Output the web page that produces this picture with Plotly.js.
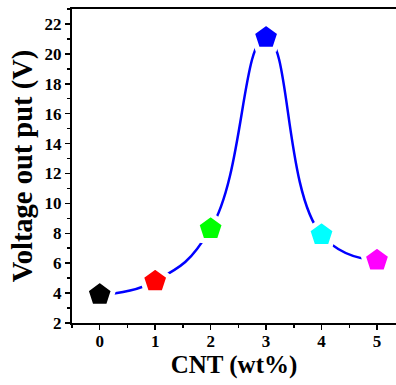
<!DOCTYPE html>
<html>
<head>
<meta charset="utf-8">
<script src="https://cdn.plot.ly/plotly-3.0.1.min.js"></script>
<style>
html,body{margin:0;padding:0;background:#fff;overflow:hidden;}
#chart{width:396px;height:385px;}
</style>
</head>
<body>
<div id="chart"></div>
<script>
const cnt = [0, 1, 2, 3, 4, 5];
const voltage = [3.9, 4.8, 8.3, 21.1, 7.9, 6.2];
const markerColors = ['#000000', '#ff0000', '#00ff00', '#0000ff', '#00ffff', '#ff00ff'];
const xTickVals = [0, 1, 2, 3, 4, 5];
const yTickVals = [2, 4, 6, 8, 10, 12, 14, 16, 18, 20, 22];

const fontFam = '"Liberation Serif", "Times New Roman", serif';

const trace = {
  x: cnt,
  y: voltage,
  type: 'scatter',
  mode: 'lines+markers',
  line: {color: '#0000ff', width: 2.5, shape: 'spline', smoothing: 1.3},
  marker: {symbol: 'pentagon', size: 29, color: markerColors, line: {color: '#ffffff', width: 5}},
  hoverinfo: 'x+y',
  showlegend: false
};

const layout = {
  width: 396,
  height: 385,
  margin: {l: 72, r: 0, t: 9, b: 62},
  paper_bgcolor: '#ffffff',
  plot_bgcolor: '#ffffff',
  font: {family: fontFam, color: '#000000'},
  xaxis: {
    range: [-0.5, 5.343],
    tickvals: xTickVals,
    ticks: 'outside', ticklen: 5, tickwidth: 1.5, tickcolor: '#000',
    minor: {dtick: 0.5, tick0: 0, ticks: 'outside', ticklen: 3, tickwidth: 1.5, tickcolor: '#000'},
    showline: true, linecolor: '#000', linewidth: 2, mirror: true,
    showgrid: false, zeroline: false,
    ticklabelstandoff: -3,
    tickfont: {family: fontFam, size: 17, weight: 'bold', color: '#000'},
    title: {text: 'CNT (wt%)', font: {family: fontFam, size: 25, weight: 'bold', color: '#000'}, standoff: 4}
  },
  yaxis: {
    range: [2, 23],
    tickvals: yTickVals,
    ticks: 'outside', ticklen: 5, tickwidth: 1.5, tickcolor: '#000',
    minor: {dtick: 1, tick0: 2, ticks: 'outside', ticklen: 3, tickwidth: 1.5, tickcolor: '#000'},
    showline: true, linecolor: '#000', linewidth: 2, mirror: false,
    showgrid: false, zeroline: false,
    tickfont: {family: fontFam, size: 17, weight: 'bold', color: '#000'},
    title: {text: 'Voltage out put (V)', font: {family: fontFam, size: 28.5, weight: 'bold', color: '#000'}, standoff: 4}
  }
};

Plotly.newPlot('chart', [trace], layout, {displayModeBar: false, staticPlot: true});
</script>
</body>
</html>
